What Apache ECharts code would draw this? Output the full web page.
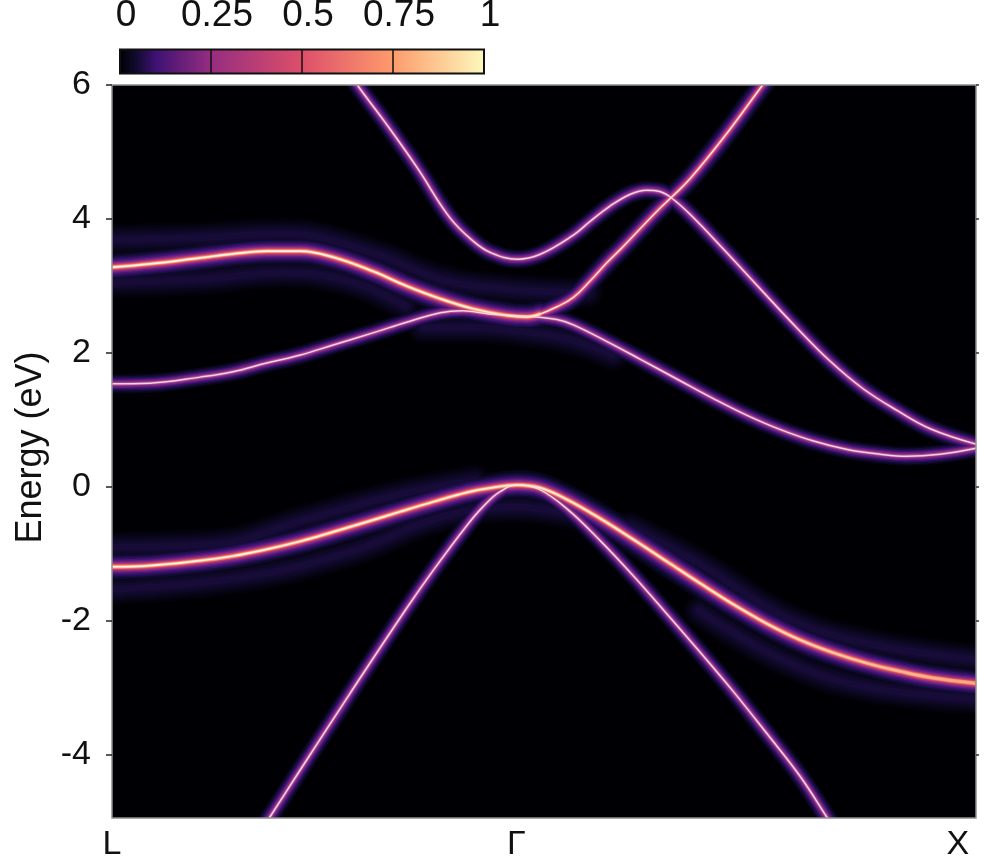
<!DOCTYPE html>
<html>
<head>
<meta charset="utf-8">
<style>
  html, body { margin: 0; padding: 0; background: #fff; }
  #chart { width: 985px; height: 862px; }
</style>
</head>
<body>
<div id="chart"></div>
<script src="https://cdn.jsdelivr.net/npm/echarts@6/dist/echarts.min.js"></script>
<script>
// k along the path, L = 0 .. X = 100, energy in eV
const heavyHole = [[0,-1.19],[3.6,-1.18],[10.2,-1.1],[14,-1.03],[17.9,-0.93],[21.8,-0.81],[25.6,-0.67],[29.5,-0.52],[33.3,-0.37],[37.2,-0.22],[41.1,-0.08],[43.5,-0.02],[46.9,0.03],[49.5,-0.01],[52.7,-0.19],[56.5,-0.47],[60.3,-0.78],[64.2,-1.11],[68.1,-1.44],[71.9,-1.75],[75.8,-2.04],[79.6,-2.28],[83.4,-2.47],[87.4,-2.63],[91.2,-2.75],[95,-2.85],[100,-2.93]];
const lightHole = [[16,-5.37],[18.2,-4.94],[21.8,-4.22],[27.5,-3.09],[34.1,-1.81],[37.2,-1.24],[41.1,-0.57],[42.9,-0.3],[44.9,-0.07],[46.9,0.03],[49.5,-0.04],[52.7,-0.33],[56.5,-0.8],[60.3,-1.32],[64,-1.86],[68.1,-2.47],[71.9,-3.05],[75.8,-3.68],[79.6,-4.31],[82.8,-4.94],[84.8,-5.34]];
const upperCondLeft = [[0,3.28],[4.4,3.33],[10.2,3.42],[14,3.48],[17.9,3.52],[21.8,3.52],[25.6,3.43],[30.2,3.22],[34.1,3],[38,2.81],[41.8,2.66],[45.7,2.56],[48,2.54],[49.5,2.58]];
const upperCondRight = [[45.7,2.56],[48,2.54],[49.5,2.58],[51.5,2.69],[53.4,2.83],[55.3,3.07],[57.3,3.35],[59.1,3.58],[63.1,4.12],[64.8,4.33],[66.9,4.6],[70.7,5.2],[75.3,6],[78.5,6.55]];
const lowerCond = [[0,1.54],[4.4,1.55],[10.2,1.64],[14,1.72],[17.9,1.85],[21.8,1.97],[25.6,2.12],[30.2,2.3],[34.1,2.46],[38,2.6],[40.6,2.63],[43.8,2.58],[48,2.55],[51.5,2.5],[53.4,2.42],[57.3,2.17],[61.1,1.91],[65.7,1.59],[69.6,1.32],[73.5,1.07],[77.3,0.86],[81.1,0.69],[85.1,0.56],[88.9,0.49],[92,0.46],[95.8,0.49],[100,0.58]];
const topCond = [[25.8,6.52],[28.4,6],[31.4,5.48],[35.3,4.77],[39.1,4.02],[41.8,3.67],[43.8,3.5],[46.9,3.4],[49.5,3.47],[53.4,3.76],[55.3,3.96],[57.6,4.19],[60,4.37],[61.9,4.43],[63.4,4.41],[64.8,4.31],[66.9,4.07],[70.7,3.56],[75.3,2.92],[79.3,2.37],[83.1,1.88],[86.9,1.47],[90.9,1.14],[94.7,0.87],[100,0.64]];

// faint smears next to the bands
const ghostAboveC = [[-3,3.68],[10,3.72],[20,3.78],[30,3.5],[38,3.1],[46,2.95],[55,2.9]];
const ghostBelowC = [[-3,3.05],[10,3.1],[20,3.2],[28,3.05],[34,2.7]];
const ghostBelowD = [[36,2.38],[42,2.38],[47,2.33],[53,2.2],[58,1.97]];
const ghostAboveA = [[-3,-0.9],[12,-0.85],[22,-0.5],[33,-0.12],[42,0.1]];
const ghostBelowA = [[-3,-1.55],[15,-1.35],[28,-0.95],[38,-0.45],[47,-0.3],[56,-0.5]];
const ghostRightA = [[60,-0.6],[68,-1.15],[78,-1.95],[88,-2.35],[103,-2.62]];
const ghostRightB = [[68,-1.85],[78,-2.6],[88,-3],[103,-3.18]];

const brightBands = [heavyHole, upperCondLeft];
const mediumBands = [upperCondRight];
const thinBands = [lightHole, lowerCond, topCond];
const ghosts = [ghostAboveC, ghostBelowC, ghostBelowD, ghostAboveA, ghostBelowA, ghostRightA, ghostRightB];

const gammaK = 46.8;
const kTicks = [0, gammaK, 97.9];
const kLabels = ['L', 'Γ', 'X'];
const energyTicks = [-4, -2, 0, 2, 4, 6];
const energyMin = -4.94;
const energyMax = 6;
const scaleValue = [1];
const scaleStops = [[0,'#000004'],[0.04,'#0e0a2a'],[0.1,'#3f1273'],[0.25,'#962d80'],[0.5,'#dd4f6a'],[0.75,'#fe9b6c'],[1,'#fcf8bc']];

const font = 'Liberation Sans';

// glow ramps, dark and wide to bright and narrow. z is by brightness, so
// overlapping glows merge like the brighter of the two
const ghostRamp = [[32,'#03020b',2.8],[27,'#060412',2.9],[22,'#09061b',3.1],[17,'#0d0824',3.2],[12,'#120a2e',3.6],[7,'#170b38',3.7]];
const brightRamp = [[30,'#07051a'],[25,'#100a2e'],[21,'#1c0f48'],[18,'#2f1062'],[15,'#471575'],[12,'#66207f'],[9.5,'#8a2a80'],[7.2,'#b13a78'],[5.2,'#dd4f6a'],[3.8,'#f9805f'],[2.8,'#fea876']];
const mediumRamp = [[22,'#07051a'],[19,'#100a2e'],[16,'#1c0f48'],[13.5,'#2f1062'],[11,'#471575'],[9,'#66207f'],[7,'#8a2a80'],[5,'#b13a78'],[3.4,'#dd4f6a']];
const thinRamp = [[19,'#07051a'],[16,'#120b32'],[13,'#230f52'],[10.5,'#3d126e'],[8.2,'#5e1c7e'],[5.8,'#812684'],[3.4,'#a8508f']];

const plot = { left: 112, top: 85, width: 864, height: 733 };
const strip = { left: 120, top: 49.5, width: 364, height: 24 };

function layer(data, width, color, z) {
  return {
    type: 'line',
    data: data,
    smooth: 0.4,
    showSymbol: false,
    silent: true,
    z: z,
    lineStyle: { width: width, color: color, cap: 'round', join: 'round' }
  };
}

const series = [];
ghostRamp.forEach(r => {
  ghosts.forEach(g => series.push(layer(g, r[0], r[1], r[2])));
});
const levelZ = i => 3 + i * 0.5;
brightRamp.forEach((r, i) => {
  brightBands.forEach(b => series.push(layer(b, r[0], r[1], levelZ(i))));
});
mediumRamp.forEach((r, i) => {
  mediumBands.forEach(b => series.push(layer(b, r[0], r[1], levelZ(i))));
});
thinRamp.forEach((r, i) => {
  thinBands.forEach(b => series.push(layer(b, r[0], r[1], levelZ(i))));
});
const core = (a, b, c) => new echarts.graphic.LinearGradient(0, 0, 1, 0, [
  { offset: 0, color: a }, { offset: 0.72, color: b }, { offset: 1, color: c }
]);
thinBands.forEach(b => series.push(layer(b, 1.5, '#f4d3e2', 9)));
mediumBands.forEach(b => series.push(layer(b, 1.6, '#fbdde0', 9)));
series.push(layer(heavyHole, 1.7, core('#fff4ea', '#ffe6d6', '#ffa47c'), 9));
series.push(layer(upperCondLeft, 1.7, core('#fff4ea', '#fff4ea', '#ffe0cc'), 9));

// colour scale strip
series.push({
  type: 'bar',
  xAxisIndex: 1,
  yAxisIndex: 2,
  data: scaleValue,
  barWidth: '100%',
  silent: true,
  z: 16,
  itemStyle: {
    color: new echarts.graphic.LinearGradient(0, 0, 1, 0,
      scaleStops.map(s => ({ offset: s[0], color: s[1] })))
  }
});

// the wide glow lines get a wider clip than the grid, so cover what spills out
const pad = 20;
const whiteStrips = [
  { x: plot.left - pad, y: 60, width: plot.width + pad * 2, height: plot.top - 60 },
  { x: plot.left - pad, y: plot.top + plot.height, width: plot.width + pad * 2, height: pad },
  { x: plot.left - pad, y: plot.top, width: pad, height: plot.height },
  { x: plot.left + plot.width, y: plot.top, width: pad, height: plot.height }
];

const chart = echarts.init(document.getElementById('chart'), null, { renderer: 'canvas' });

chart.setOption({
  animation: false,
  backgroundColor: '#fff',
  grid: [
    { left: plot.left, top: plot.top, width: plot.width, height: plot.height, show: true, backgroundColor: '#000004', borderWidth: 0, outerBoundsMode: 'none' },
    { left: strip.left, top: strip.top, width: strip.width, height: strip.height, outerBoundsMode: 'none' }
  ],
  graphic: [
    ...whiteStrips.map(s => ({ type: 'rect', silent: true, z: 15, shape: s, style: { fill: '#fff' } })),
    { type: 'rect', silent: true, z: 17, shape: { x: plot.left, y: plot.top, width: plot.width, height: plot.height }, style: { fill: 'none', stroke: '#8f8f8f', lineWidth: 1.5 } },
    { type: 'rect', silent: true, z: 18, shape: { x: strip.left, y: strip.top, width: strip.width, height: strip.height }, style: { fill: 'none', stroke: '#111', lineWidth: 2 } }
  ],
  xAxis: [
    {
      type: 'value', gridIndex: 0, min: 0, max: 100, z: 20,
      splitLine: { show: false },
      axisLine: { show: false },
      axisTick: { show: false },
      axisLabel: {
        customValues: kTicks,
        formatter: v => kLabels[kTicks.indexOf(v)],
        fontFamily: font, fontSize: 34, color: '#111', margin: 10
      }
    },
    {
      type: 'value', gridIndex: 1, min: 0, max: 1, interval: 0.25, position: 'top', z: 20,
      splitLine: { show: false },
      axisLine: { show: false },
      axisTick: { show: true, inside: true, length: strip.height, lineStyle: { color: '#111', width: 1.5 } },
      axisLabel: {
        formatter: v => String(v),
        fontFamily: font, fontSize: 37, color: '#111', margin: 15,
        padding: [0, 0, 0, 12]
      }
    }
  ],
  yAxis: [
    {
      type: 'value', gridIndex: 0, min: energyMin, max: energyMax, z: 20,
      name: 'Energy (eV)', nameLocation: 'middle', nameGap: 63,
      nameTextStyle: { fontFamily: font, fontSize: 36, color: '#111', padding: [0, 0, 0, 8] },
      splitLine: { show: false },
      axisLine: { show: false },
      axisTick: { show: true, customValues: energyTicks, length: 6, lineStyle: { color: '#222', width: 1.5 } },
      axisLabel: {
        customValues: energyTicks,
        formatter: v => String(v),
        fontFamily: font, fontSize: 34, color: '#111', margin: 21
      }
    },
    {
      type: 'value', gridIndex: 0, min: energyMin, max: energyMax, position: 'right', z: 20,
      splitLine: { show: false },
      axisLine: { show: false },
      axisTick: { show: true, customValues: energyTicks, length: 3, lineStyle: { color: '#333', width: 1.5 } },
      axisLabel: { show: false }
    },
    {
      type: 'category', gridIndex: 1, data: ['scale'],
      axisLine: { show: false }, axisTick: { show: false }, axisLabel: { show: false }
    }
  ],
  series: series
});
</script>
</body>
</html>
